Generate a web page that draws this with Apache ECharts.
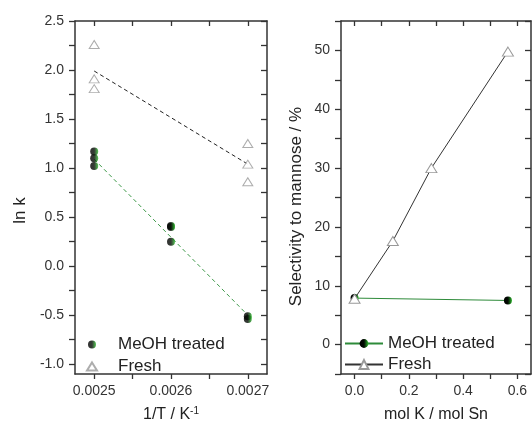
<!DOCTYPE html>
<html>
<head>
<meta charset="utf-8">
<script src="https://cdn.jsdelivr.net/npm/echarts@6/dist/echarts.min.js"></script>
<style>html,body{margin:0;padding:0;background:#fff}#c{width:532px;height:428px}</style>
</head>
<body>
<div id="c"></div>
<script>
// ---- Left panel: Arrhenius plot ----
const invT_fresh = [0.0025, 0.0025, 0.0025, 0.0027, 0.0027, 0.0027];
const lnk_fresh = [2.26, 1.91, 1.81, 1.25, 1.04, 0.86];
const invT_meoh = [0.0025, 0.0025, 0.0025, 0.0026, 0.0026, 0.0026, 0.0027, 0.0027];
const lnk_meoh = [1.17, 1.10, 1.02, 0.41, 0.40, 0.25, -0.51, -0.54];
const fitFresh_x = [0.0025, 0.0027];
const fitFresh_y = [1.99, 1.04];
const fitMeoh_x = [0.0025, 0.0027];
const fitMeoh_y = [1.09, -0.50];
const leftXLabels = [0.0025, 0.0026, 0.0027];
const leftXTicks = [0.0025, 0.00255, 0.0026, 0.00265, 0.0027];
const leftYLabels = [-1.0, -0.5, 0.0, 0.5, 1.0, 1.5, 2.0, 2.5];
const leftYTicks = [-1.0, -0.75, -0.5, -0.25, 0, 0.25, 0.5, 0.75, 1.0, 1.25, 1.5, 1.75, 2.0, 2.25, 2.5];

// ---- Right panel: selectivity ----
const molK_fresh = [0.0, 0.141, 0.283, 0.565];
const sel_fresh = [7.8, 17.6, 30.0, 49.8];
const molK_meoh = [0.0, 0.565];
const sel_meoh = [7.9, 7.5];
const rightXLabels = [0.0, 0.2, 0.4, 0.6];
const rightXTicks = [0.0, 0.1, 0.2, 0.3, 0.4, 0.5, 0.6];
const rightYLabels = [0, 10, 20, 30, 40, 50];
const rightYTicks = [-5, 0, 5, 10, 15, 20, 25, 30, 35, 40, 45, 50, 55];

const zip = (a, b) => a.map((v, i) => [v, b[i]]);
const FONT = 'Liberation Sans, Arial, sans-serif';
const AX = '#333';
const meohFill = {type: 'linear', x: 0, y: 0, x2: 1, y2: 0,
  colorStops: [{offset: 0, color: '#000'}, {offset: 0.5, color: '#020a02'}, {offset: 1, color: '#2cb82c'}]};

function xAxisDef(grid, pos, min, max, ticks, labels, dec, extra) {
  const bottom = pos === 'bottom';
  return Object.assign({
    type: 'value', gridIndex: grid, position: pos, min: min, max: max,
    axisLine: {show: true, onZero: false, lineStyle: {color: AX, width: 1.5}},
    axisTick: {show: true, inside: !bottom, length: 5, customValues: ticks, lineStyle: {color: AX, width: 1.3}},
    axisLabel: {show: bottom, customValues: labels, margin: 10, fontFamily: FONT, fontSize: 14, color: '#333',
      formatter: v => Number(v).toFixed(dec)},
    splitLine: {show: false}
  }, extra || {});
}
function yAxisDef(grid, pos, min, max, ticks, labels, dec, extra) {
  const left = pos === 'left';
  return Object.assign({
    type: 'value', gridIndex: grid, position: pos, min: min, max: max,
    axisLine: {show: true, onZero: false, lineStyle: {color: AX, width: 1.5}},
    axisTick: {show: true, inside: !left, length: 6, customValues: ticks, lineStyle: {color: AX, width: 1.3}},
    axisLabel: {show: left, customValues: labels, margin: 11, fontFamily: FONT, fontSize: 14, color: '#333',
      formatter: v => Number(v).toFixed(dec)},
    splitLine: {show: false}
  }, extra || {});
}

const chart = echarts.init(document.getElementById('c'), null, {renderer: 'canvas'});
chart.setOption({
  animation: false,
  backgroundColor: '#fff',
  grid: [
    {left: 75, top: 21, width: 192, height: 356},
    {left: 341, top: 21, width: 190, height: 356}
  ],
  xAxis: [
    xAxisDef(0, 'bottom', 0.002475, 0.002725, leftXTicks, leftXLabels, 4, {
      name: '{a|1/T / K}{s|-1}', nameLocation: 'middle', nameGap: 32,
      nameTextStyle: {rich: {a: {fontFamily: FONT, fontSize: 16, color: '#222'},
        s: {fontFamily: FONT, fontSize: 10, color: '#222', padding: [0, 0, 8, 0]}}}
    }),
    xAxisDef(0, 'top', 0.002475, 0.002725, leftXTicks, leftXLabels, 4),
    xAxisDef(1, 'bottom', -0.05, 0.65, rightXTicks, rightXLabels, 1, {
      name: 'mol K / mol Sn', nameLocation: 'middle', nameGap: 33,
      nameTextStyle: {fontFamily: FONT, fontSize: 16, color: '#222'}
    }),
    xAxisDef(1, 'top', -0.05, 0.65, rightXTicks, rightXLabels, 1)
  ],
  yAxis: [
    yAxisDef(0, 'left', -1.1, 2.5, leftYTicks, leftYLabels, 1, {
      name: 'ln k', nameLocation: 'middle', nameGap: 46,
      nameTextStyle: {fontFamily: FONT, fontSize: 17, color: '#222', padding: [0, 26, 0, 0]}
    }),
    yAxisDef(0, 'right', -1.1, 2.5, leftYTicks, leftYLabels, 1),
    yAxisDef(1, 'left', -5, 55, rightYTicks, rightYLabels, 0, {
      name: 'Selectivity to mannose / %', nameLocation: 'middle', nameGap: 36,
      nameTextStyle: {fontFamily: FONT, fontSize: 17, color: '#222', padding: [0, 18, 0, 0]}
    }),
    yAxisDef(1, 'right', -5, 55, rightYTicks, rightYLabels, 0)
  ],
  legend: [
    {data: ['MeOH treated', 'Fresh'], orient: 'vertical', left: 86, top: 336, padding: 0,
      itemWidth: 10, itemHeight: 8, itemGap: 5,
      textStyle: {fontFamily: FONT, fontSize: 17, color: '#222', padding: [0, 0, 0, 16]}},
    {data: ['MeOH treated ', 'Fresh '], orient: 'vertical', left: 344, top: 335, padding: 0,
      itemWidth: 38, itemHeight: 11, itemGap: 4,
      textStyle: {fontFamily: FONT, fontSize: 17, color: '#222'}}
  ],
  series: [
    {name: 'fitFresh', type: 'line', xAxisIndex: 0, yAxisIndex: 0, data: zip(fitFresh_x, fitFresh_y),
      symbol: 'none', lineStyle: {color: '#222', width: 1, type: [4, 3]}, z: 2},
    {name: 'fitMeoh', type: 'line', xAxisIndex: 0, yAxisIndex: 0, data: zip(fitMeoh_x, fitMeoh_y),
      symbol: 'none', lineStyle: {color: '#3f9a4a', width: 1, type: [4, 3]}, z: 2},
    {name: 'MeOH treated', type: 'scatter', xAxisIndex: 0, yAxisIndex: 0, data: zip(invT_meoh, lnk_meoh),
      symbol: 'circle', symbolSize: 8, itemStyle: {color: meohFill}, z: 3},
    {name: 'Fresh', type: 'scatter', xAxisIndex: 0, yAxisIndex: 0, data: zip(invT_fresh, lnk_fresh),
      symbol: 'triangle', symbolSize: [10, 8], itemStyle: {color: '#fff', borderColor: '#999', borderWidth: 1}, z: 3},
    {name: 'MeOH treated ', type: 'line', xAxisIndex: 2, yAxisIndex: 2, data: zip(molK_meoh, sel_meoh),
      symbol: 'circle', symbolSize: 8, showAllSymbol: true,
      lineStyle: {color: '#2e8b3a', width: 1}, itemStyle: {color: meohFill, borderWidth: 0}, z: 3},
    {name: 'Fresh ', type: 'line', xAxisIndex: 2, yAxisIndex: 2, data: zip(molK_fresh, sel_fresh),
      symbol: 'triangle', symbolSize: [11, 9], showAllSymbol: true,
      lineStyle: {color: '#333', width: 1}, itemStyle: {color: '#fff', borderColor: '#999', borderWidth: 1}, z: 4}
  ]
});
</script>
</body>
</html>
